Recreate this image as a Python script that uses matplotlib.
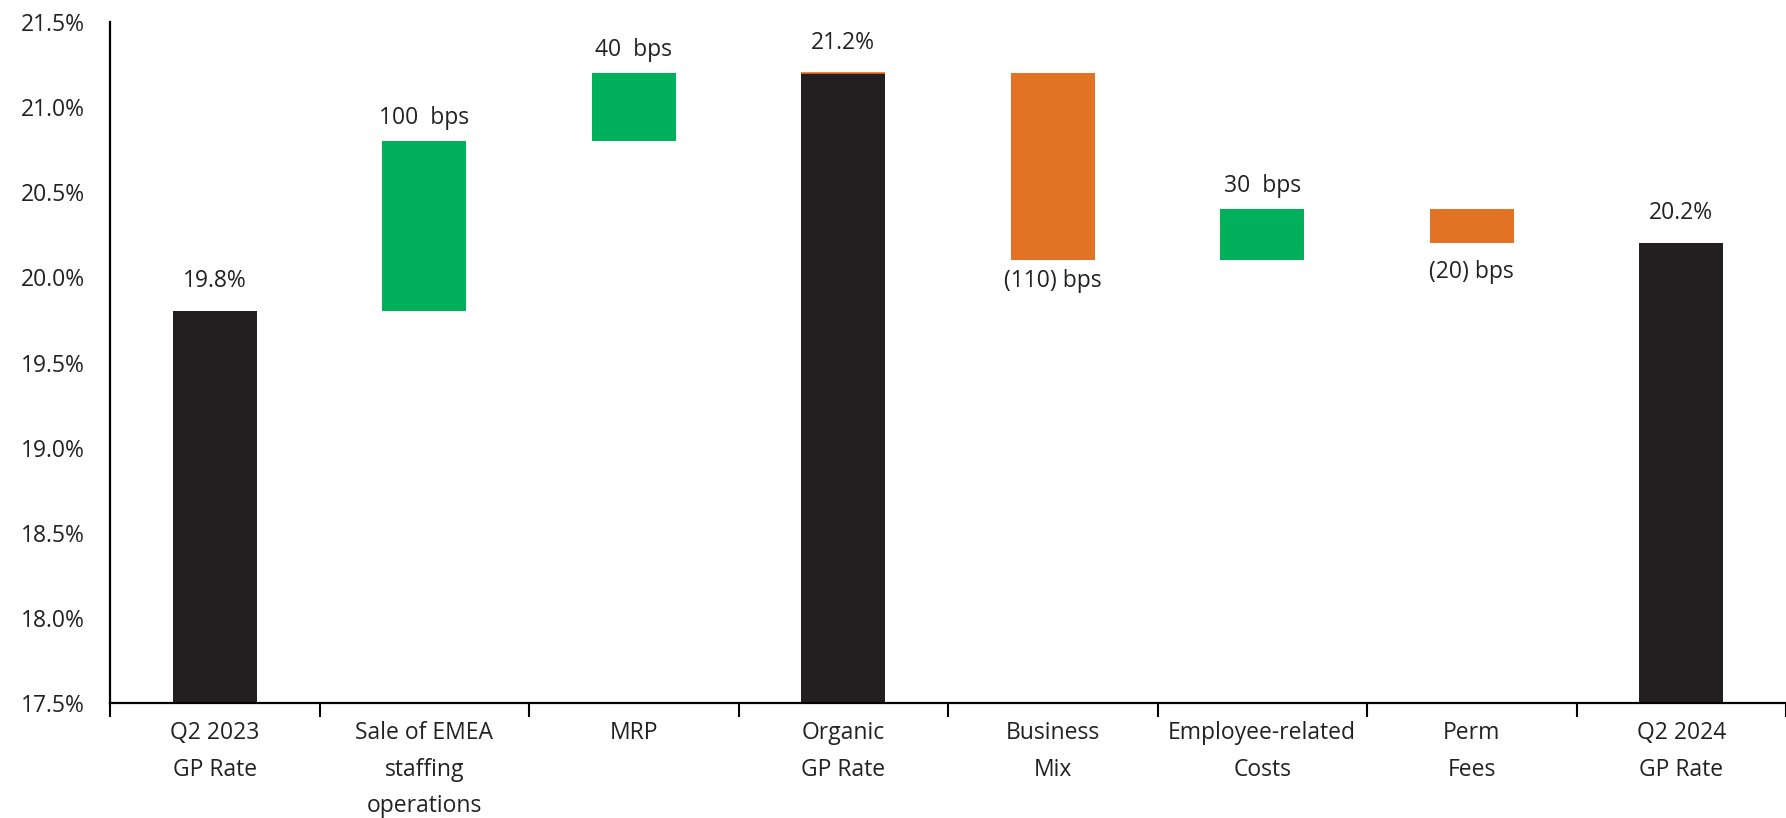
import matplotlib
matplotlib.use('Agg')
import matplotlib.pyplot as plt
import numpy as np

# waterfall data (GP rate, %)
categories = ['Q2 2023\nGP Rate', 'Sale of EMEA\nstaffing\noperations', 'MRP',
              'Organic\nGP Rate', 'Business\nMix', 'Employee-related\nCosts',
              'Perm\nFees', 'Q2 2024\nGP Rate']
kinds = ['total', 'delta', 'delta', 'total', 'delta', 'delta', 'delta', 'total']
values = [19.8, 1.0, 0.4, 21.2, -1.1, 0.3, -0.2, 20.2]
labels = ['19.8%', '100  bps', '40  bps', '21.2%', '(110) bps', '30  bps',
          '(20) bps', '20.2%']

dark = '#231f20'
green = '#00b05a'
orange = '#e37324'
txt = '#222222'

plt.rcParams['font.family'] = ['Open Sans', 'DejaVu Sans']
fs = 16.5

fig = plt.figure(figsize=(17.86, 8.18), dpi=100)
ax = fig.add_axes([110 / 1786, 115 / 818, 1 - 110 / 1786, 681 / 818])

ymin = 17.5
running = 0.0
x = np.arange(len(categories))
for i, (k, v, lab) in enumerate(zip(kinds, values, labels)):
    if k == 'total':
        bottom, height, color = ymin, v - ymin, dark
        running = v
    else:
        bottom = running if v > 0 else running + v
        height = abs(v)
        color = green if v > 0 else orange
        running += v
    ax.bar(x[i], height, bottom=bottom, width=0.4, color=color, zorder=2)
    if k == 'total':
        ax.annotate(lab, (x[i], bottom + height), xytext=(0, 13),
                    textcoords='offset points', ha='center', va='bottom',
                    fontsize=fs, color=txt)
    elif v > 0:
        ax.annotate(lab, (x[i], bottom + height), xytext=(0, 8),
                    textcoords='offset points', ha='center', va='bottom',
                    fontsize=fs, color=txt)
    else:
        off = -6 if height > 0.5 else -12
        ax.annotate(lab, (x[i], bottom), xytext=(0, off),
                    textcoords='offset points', ha='center', va='top',
                    fontsize=fs, color=txt)

# thin orange cap on top of the organic total, as in the source deck
ax.plot([x[3] - 0.2, x[3] + 0.2], [values[3], values[3]], color=orange,
        lw=1.2, zorder=3, solid_capstyle='butt')

ax.set_ylim(17.5, 21.5)
ax.set_yticks(np.arange(17.5, 21.51, 0.5))
ax.set_yticklabels(['%.1f%%' % t for t in np.arange(17.5, 21.51, 0.5)])
ax.set_xlim(-0.5, 7.5 - 12 / 211)
ax.set_xticks(x)
ax.set_xticklabels(categories, linespacing=1.7)
ax.set_xticks(np.arange(-0.5, 7.6, 1), minor=True)
ax.tick_params(axis='x', which='major', length=0, pad=13, labelsize=fs,
               colors=txt)
ax.tick_params(axis='x', which='minor', length=10, width=1.5, direction='out')
ax.tick_params(axis='y', length=0, pad=18, labelsize=fs, colors=txt)

for s in ['top', 'right']:
    ax.spines[s].set_visible(False)
for s in ['left', 'bottom']:
    ax.spines[s].set_linewidth(1.6)
    ax.spines[s].set_color('black')

fig.savefig('out.png', dpi=100)
